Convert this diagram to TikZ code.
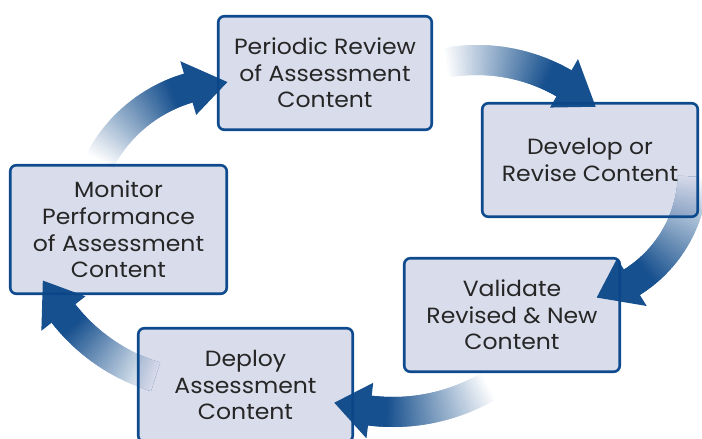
\documentclass[tikz,border=0pt]{standalone}
\usepackage{fontspec}
\setmainfont{Poppins}[FakeStretch=1.07]
\usetikzlibrary{fadings}
\definecolor{boxblue}{HTML}{0E4B8E}
\definecolor{boxfill}{HTML}{D9DCEB}
\definecolor{arrblue}{HTML}{0B4788}
\definecolor{txtgray}{HTML}{262626}

% #1 cx, #2 cy, #3 radius, #4 tail angle, #5 head base angle, #6 tip angle
\newcommand{\arcarrowmask}[6]{%
  \foreach \i in {0,...,47}{%
    \pgfmathsetmacro{\aa}{#4+(#5-#4)*\i/48}%
    \pgfmathsetmacro{\ab}{#4+(#5-#4)*(\i+2)/48}%
    \pgfmathsetmacro{\op}{min(95,95*1.15*(\i+1)/48)}%
    \draw[line width=30pt, white!\op!black]
      ({#1+#3*cos(\aa)},{#2-#3*sin(\aa)}) -- ({#1+#3*cos(\ab)},{#2-#3*sin(\ab)});
  }%
  \fill[white!95!black]
    ({#1+(#3+28)*cos(#5)},{#2-(#3+28)*sin(#5)})
    -- ({#1+#3*cos(#6)},{#2-#3*sin(#6)})
    -- ({#1+(#3-28)*cos(#5)},{#2-(#3-28)*sin(#5)}) -- cycle;
}

\begin{tikzfadingfrompicture}[name=arrowfade, x=1pt, y=-1pt]
  \path[use as bounding box] (0,0) rectangle (702,439);
  \arcarrowmask{477}{234}{174}{100}{60}{47}
  \arcarrowmask{563}{172}{130}{-2}{-58}{-75}
  \arcarrowmask{393}{222}{190}{-60}{-97}{-108}
  \arcarrowmask{210}{199}{186}{253}{218}{206}
  \arcarrowmask{230}{229}{147}{152}{106.5}{91}
\end{tikzfadingfrompicture}

\tikzset{
  stepbox/.style={draw=boxblue, fill=boxfill, line width=2.6pt, rounded corners=6pt,
    align=center, text=txtgray, font=\fontsize{22}{26.7}\selectfont,
    minimum height=113.5pt, inner sep=0pt}
}

\begin{document}
\begin{tikzpicture}[x=1pt, y=-1pt]
  \useasboundingbox (0,0) rectangle (702,439);
  \node[stepbox, minimum width=213.5pt] (review) at (325,73) {Periodic Review\\of Assessment\\Content};
  \node[stepbox, minimum width=215.5pt] (develop) at (590,160) {Develop or\\Revise Content};
  \node[stepbox, minimum width=215.5pt] (validate) at (512,315) {Validate\\Revised \& New\\Content};
  \node[stepbox, minimum width=214.5pt] (deploy) at (245.5,385) {Deploy\\Assessment\\Content};
  \node[stepbox, minimum width=216.5pt, minimum height=128.5pt] (monitor) at (118.5,229.5) {Monitor\\Performance\\of Assessment\\Content};
  \fill[arrblue, path fading=arrowfade, fit fading=false,
        fading transform={shift={(351,219.5)}}] (0,0) rectangle (702,439);
\end{tikzpicture}
\end{document}
